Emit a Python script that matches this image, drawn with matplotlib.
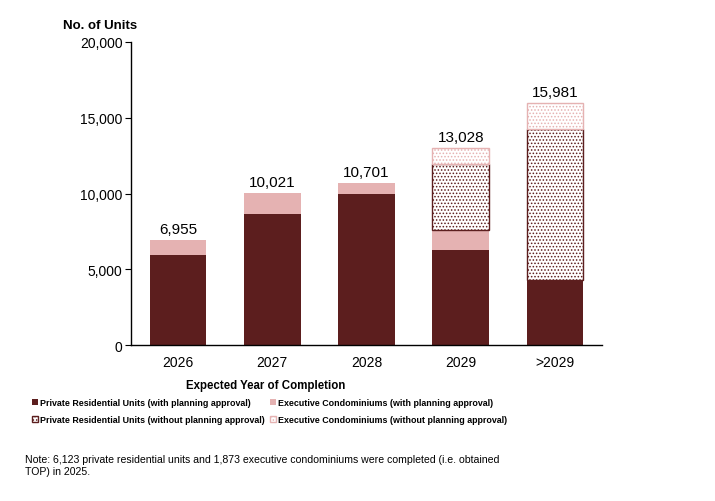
import matplotlib
matplotlib.use("Agg")
import matplotlib.pyplot as plt
import numpy as np

plt.rcParams['font.family'] = ['Liberation Sans', 'DejaVu Sans']
plt.rcParams['hatch.linewidth'] = 0.7

years = ["2026", "2027", "2028", "2029", ">2029"]
private_with = [5950, 8650, 9970, 6300, 4300]
ec_with = [1005, 1371, 731, 1300, 0]
private_without = [0, 0, 0, 4350, 9960]
ec_without = [0, 0, 0, 1078, 1721]
totals = [6955, 10021, 10701, 13028, 15981]

dark = "#5c1e1e"
pink = "#e5b2b2"

fig = plt.figure(figsize=(7.15, 5.02), dpi=100)
ax = fig.add_axes([131 / 715, 1 - 346 / 502, 471 / 715, 303 / 502])

x = np.arange(len(years))
w = 0.6
b1 = np.array(private_with)
b2 = b1 + np.array(ec_with)
b3 = b2 + np.array(private_without)

# only draw the "without approval" segments where they exist
m3 = np.array(private_without) > 0
m4 = np.array(ec_without) > 0

h1 = ax.bar(x, private_with, w, color=dark, linewidth=0)
h2 = ax.bar(x, ec_with, w, bottom=b1, color=pink, linewidth=0)
h3 = ax.bar(x[m3], np.array(private_without)[m3], w, bottom=b2[m3], facecolor="white",
            edgecolor=dark, hatch=".....", linewidth=1)
h4 = ax.bar(x[m4], np.array(ec_without)[m4], w, bottom=b3[m4], facecolor="white",
            edgecolor=pink, hatch=".....", linewidth=1)

for xi, t in zip(x, totals):
    ax.text(xi, t + 250, f"{t:,}", ha="center", va="bottom", fontsize=11)

ax.set_xlim(-0.5, 4.5)
ax.set_ylim(0, 20000)
ax.set_yticks(np.arange(0, 20001, 5000))
ax.yaxis.set_major_formatter(matplotlib.ticker.FuncFormatter(lambda v, p: f"{int(v):,}"))
ax.set_xticks(x)
ax.set_xticklabels(years)
ax.tick_params(axis="x", length=0, labelsize=10, pad=7)
ax.tick_params(axis="y", length=4, labelsize=10, pad=2)
for s in ["top", "right"]:
    ax.spines[s].set_visible(False)
ax.spines["left"].set_linewidth(1)
ax.spines["bottom"].set_linewidth(1)

fig.text(63 / 715, 1 - 26 / 502, "No. of Units", fontsize=9.5, fontweight="bold",
         ha="left", va="center")
fig.text(266 / 715, 1 - 386 / 502, "Expected Year of Completion", fontsize=8.3,
         fontweight="bold", ha="center", va="center")

leg = fig.legend([h1, h3, h2, h4],
                 ["Private Residential Units (with planning approval)",
                  "Private Residential Units (without planning approval)",
                  "Executive Condominiums (with planning approval)",
                  "Executive Condominiums (without planning approval)"],
                 ncol=2, loc="upper left", bbox_to_anchor=(32 / 715, 1 - 399 / 502),
                 frameon=False, prop={"size": 6.4, "weight": "bold"},
                 handlelength=0.7, handleheight=0.7, handletextpad=0.2,
                 columnspacing=0.6, labelspacing=0.95, borderpad=0, borderaxespad=0)

fig.text(25 / 715, 1 - 466 / 502,
         "Note: 6,123 private residential units and 1,873 executive condominiums were completed (i.e. obtained\nTOP) in 2025.",
         fontsize=7.6, ha="left", va="center", linespacing=1.35)

fig.savefig("out.png", dpi=100)
